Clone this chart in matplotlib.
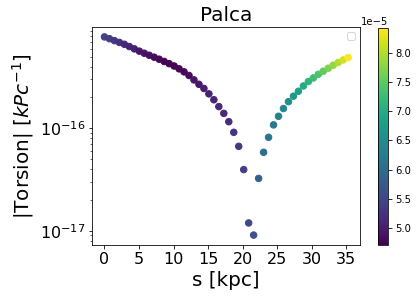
#!/usr/bin/env python3

import matplotlib
matplotlib.use("Agg")
import matplotlib.pyplot as plt

# arc length along the stream [kpc]
S_KPC = [
    0.00, 0.72, 1.44, 2.16, 2.88, 3.60, 4.32, 5.04, 5.76, 6.48,
    7.20, 7.92, 8.64, 9.36, 10.08, 10.80, 11.52, 12.24, 12.96, 13.68,
    14.40, 15.12, 15.84, 16.56, 17.28, 18.00, 18.72, 19.44, 20.16, 20.88,
    21.60, 22.32, 23.04, 23.76, 24.48, 25.20, 25.92, 26.64, 27.36, 28.08,
    28.80, 29.52, 30.24, 30.96, 31.68, 32.40, 33.12, 33.84, 34.56, 35.28,
]

# |torsion| [kpc^-1]
TORSION = [
    7.81e-16, 7.50e-16, 7.18e-16, 6.90e-16, 6.62e-16, 6.29e-16, 5.97e-16, 5.67e-16, 5.41e-16, 5.17e-16,
    4.95e-16, 4.73e-16, 4.50e-16, 4.28e-16, 4.06e-16, 3.81e-16, 3.56e-16, 3.28e-16, 2.97e-16, 2.69e-16,
    2.45e-16, 2.17e-16, 1.90e-16, 1.63e-16, 1.40e-16, 1.16e-16, 9.14e-17, 6.67e-17, 3.95e-17, 1.19e-17,
    9.06e-18, 3.24e-17, 5.83e-17, 8.17e-17, 1.08e-16, 1.31e-16, 1.56e-16, 1.82e-16, 2.06e-16, 2.30e-16,
    2.59e-16, 2.86e-16, 3.10e-16, 3.37e-16, 3.61e-16, 3.86e-16, 4.13e-16, 4.39e-16, 4.65e-16, 4.91e-16,
]

# colour quantity (colorbar, x1e-5)
COLOR_VAL = [
    5.45e-5, 5.38e-5, 5.31e-5, 5.23e-5, 5.16e-5, 5.08e-5, 5.01e-5, 4.93e-5, 4.90e-5, 4.86e-5,
    4.82e-5, 4.78e-5, 4.75e-5, 4.71e-5, 4.71e-5, 4.75e-5, 4.78e-5, 4.82e-5, 4.90e-5, 4.93e-5,
    5.01e-5, 5.05e-5, 5.08e-5, 5.12e-5, 5.16e-5, 5.19e-5, 5.27e-5, 5.34e-5, 5.42e-5, 5.53e-5,
    5.64e-5, 5.83e-5, 6.01e-5, 6.12e-5, 6.20e-5, 6.31e-5, 6.42e-5, 6.57e-5, 6.68e-5, 6.83e-5,
    6.98e-5, 7.13e-5, 7.28e-5, 7.39e-5, 7.54e-5, 7.69e-5, 7.83e-5, 7.98e-5, 8.17e-5, 8.43e-5,
]

TITLE = "Palca"
X_LABEL = "s [kpc]"
Y_LABEL = r"|Torsion| [$kPc^{-1}$]"

W, H, DPI = 417, 300, 72

fig = plt.figure(figsize=(W / DPI, H / DPI), dpi=DPI)
ax = fig.add_axes([92.3 / W, 55 / H, 268 / W, 218 / H])
cax = fig.add_axes([378 / W, 55 / H, 10.3 / W, 217.3 / H])

sc = ax.scatter(S_KPC, TORSION, c=COLOR_VAL, cmap="viridis", s=42)
ax.set_yscale("log")
ax.set_title(TITLE, fontsize=20)
ax.set_xlabel(X_LABEL, fontsize=20)
ax.set_ylabel(Y_LABEL, fontsize=20)
ax.tick_params(axis="both", which="major", labelsize=16)
ax.set_xticks([0, 5, 10, 15, 20, 25, 30, 35])
ax.legend(handles=[], loc="upper right")

cb = fig.colorbar(sc, cax=cax)
cb.ax.tick_params(labelsize=10)

fig.savefig("out.png", dpi=DPI)
